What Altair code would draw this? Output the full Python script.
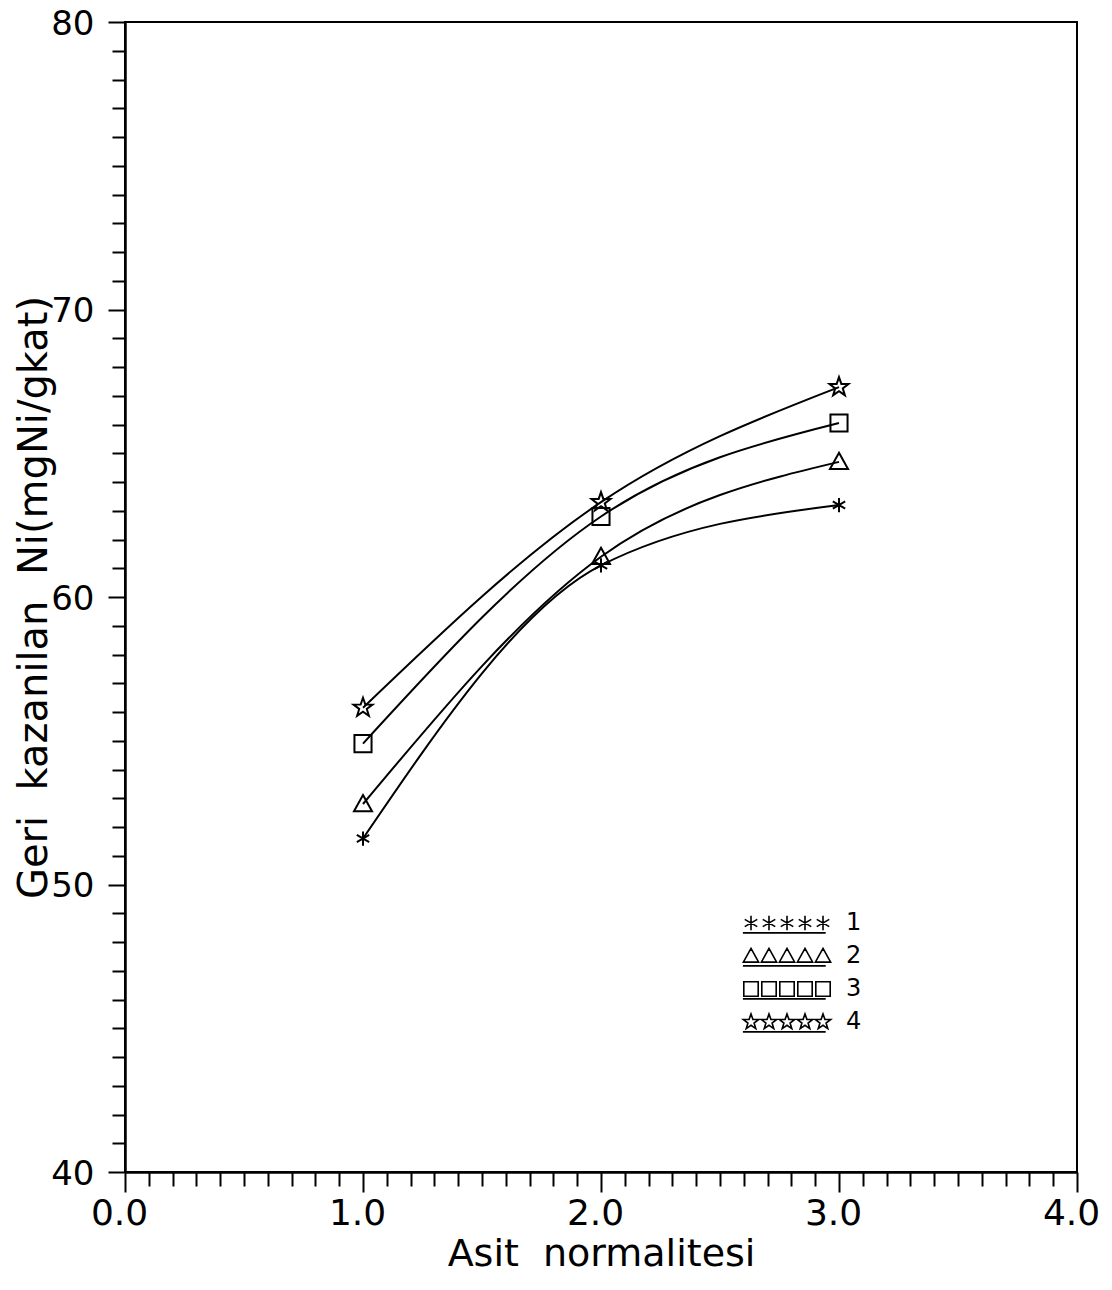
import altair as alt
import pandas as pd

# ---- data ----
x_vals = [1.0, 2.0, 3.0]
series_names = ["1", "2", "3", "4"]
s1 = [51.6, 61.1, 63.2]     # asterisk
s2 = [52.8, 61.4, 64.7]     # triangle
s3 = [54.9, 62.8, 66.05]    # square
s4 = [56.15, 63.3, 67.3]    # star
series_values = [s1, s2, s3, s4]

x_ticks = [round(i * 0.1, 1) for i in range(41)]
y_ticks = list(range(40, 81))

rows = []
for name, vals in zip(series_names, series_values):
    for xv, yv in zip(x_vals, vals):
        rows.append({"series": name, "x": xv, "y": yv})
df = pd.DataFrame(rows)

# ---- glyph outlines (unit coordinates, style only) ----
ASTER = [([(0, -1), (0, 1)], False),
         ([(-0.87, -0.5), (0.87, 0.5)], False),
         ([(-0.87, 0.5), (0.87, -0.5)], False)]
TRI = [([(0, -1), (1, 0.8), (-1, 0.8)], True)]
SQR = [([(-1, -1), (1, -1), (1, 1), (-1, 1)], True)]
STAR = [([(0, -1), (0.235, -0.324), (0.951, -0.309), (0.380, 0.124),
          (0.588, 0.809), (0, 0.4), (-0.588, 0.809), (-0.380, 0.124),
          (-0.951, -0.309), (-0.235, -0.324)], True)]


def to_path(polys, scale=1.0, dx=0.0):
    out = []
    for pts, closed in polys:
        seg = "M" + "L".join(f"{px*scale+dx:.3f},{py*scale:.3f}" for px, py in pts)
        if closed:
            seg += "Z"
        out.append(seg)
    return "".join(out)


glyphs = [(ASTER, 0.75, 0.8), (TRI, 0.95, 0.85), (SQR, 0.9, 0.8), (STAR, 1.05, 0.9)]
single_paths = [to_path(g, s) for g, s, _ in glyphs]
row_paths = []
for g, _, ls in glyphs:
    p = "".join(to_path(g, ls, dx) for dx in (-4, -2, 0, 2, 4))
    p += "M-4.9,1.1L4.3,1.1"
    row_paths.append(p)

FONT = "DejaVu Sans"

x_axis = alt.Axis(
    values=x_ticks,
    labelExpr="abs(datum.value - round(datum.value)) < 0.001 ? format(datum.value, '.1f') : ''",
    tickSize={"condition": {"test": "abs(datum.value - round(datum.value)) < 0.001", "value": 20}, "value": 14},
    labelOverlap=False, labelFlush=False,
    labelFontSize=36, labelPadding=4, labelOffset=-6, labelColor="black", labelFont=FONT,
    domainColor="black", domainWidth=2.5, tickColor="black", tickWidth=2,
    grid=False,
    title="Asit\u00a0\u00a0normalitesi", titleFontSize=38, titleFontWeight="normal",
    titleColor="black", titleFont=FONT, titlePadding=4,
)
y_axis = alt.Axis(
    values=y_ticks,
    labelExpr="datum.value % 10 == 0 ? datum.value : ''",
    tickSize={"condition": {"test": "datum.value % 10 == 0", "value": 17}, "value": 13},
    labelOverlap=False, labelFlush=False,
    labelFontSize=34, labelPadding=14, labelOffset=2, labelColor="black", labelFont=FONT,
    domainColor="black", domainWidth=2.5, tickColor="black", tickWidth=2,
    grid=False,
    title="Geri\u00a0\u00a0kazanilan\u00a0\u00a0Ni(mgNi/gkat)", titleFontSize=40,
    titleFontWeight="normal", titleColor="black", titleFont=FONT,
    titleX=-79, titleBaseline="alphabetic",
)

base = alt.Chart(df).encode(
    x=alt.X("x:Q", scale=alt.Scale(domain=[0, 4], nice=False, zero=False), axis=x_axis),
    y=alt.Y("y:Q", scale=alt.Scale(domain=[40, 80], nice=False, zero=False), axis=y_axis),
)

lines = base.mark_line(interpolate="monotone", color="black", strokeWidth=2).encode(
    detail="series:N"
)

points = base.mark_point(filled=False, color="black", strokeWidth=2, size=361, opacity=1).encode(
    shape=alt.Shape("series:N", scale=alt.Scale(domain=series_names, range=single_paths), legend=None)
)

legend_layer = base.mark_point(
    filled=False, color="black", strokeWidth=1.6, clip=True, yOffset=-5000
).encode(
    shape=alt.Shape(
        "series:N",
        scale=alt.Scale(domain=series_names, range=row_paths),
        legend=alt.Legend(
            title=None, orient="none", legendX=650, legendY=889, padding=0,
            symbolSize=324, symbolStrokeColor="black", symbolFillColor="transparent",
            symbolStrokeWidth=1.6, symbolOpacity=1,
            labelOffset=47, labelFontSize=24, labelFont=FONT, labelColor="black",
            rowPadding=7,
        ),
    )
)

chart = (
    alt.layer(lines, points, legend_layer)
    .resolve_scale(shape="independent")
    .properties(
        width=952, height=1150, autosize="none",
        padding={"left": 117, "top": 14, "right": 27, "bottom": 110},
        background="white",
        view=alt.ViewBackground(stroke="black", strokeWidth=2),
    )
    .configure_view(stroke="black", strokeWidth=2)
    .configure(font=FONT)
)

chart.save("out.html", embed_options={"renderer": "svg", "actions": False})
